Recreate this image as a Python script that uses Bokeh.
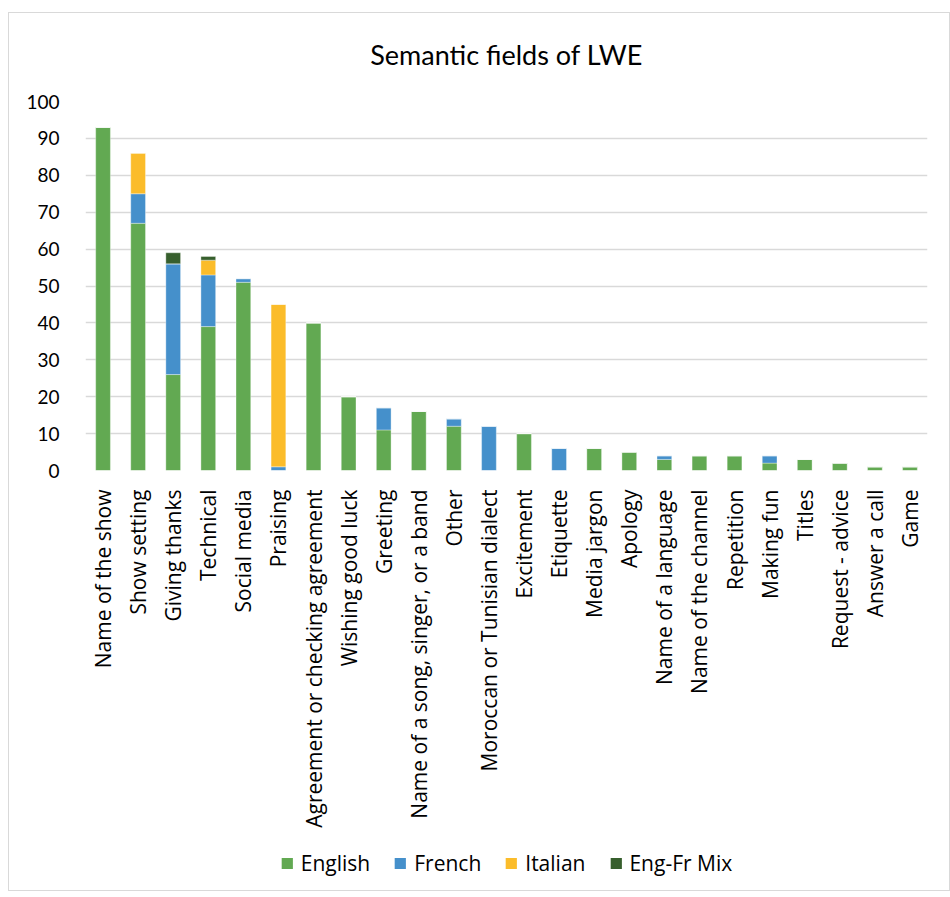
import math
from bokeh.plotting import figure
from bokeh.models import ColumnDataSource, FactorRange, Legend, LegendItem, Range1d
from bokeh.layouts import column
from bokeh.embed import file_html
from bokeh.resources import INLINE

categories = [
    "Name of the show", "Show setting", "Giving thanks", "Technical", "Social media",
    "Praising", "Agreement or checking agreement", "Wishing good luck", "Greeting",
    "Name of a song, singer, or a band", "Other", "Moroccan or Tunisian dialect",
    "Excitement", "Etiquette", "Media jargon", "Apology", "Name of a language",
    "Name of the channel", "Repetition", "Making fun", "Titles", "Request - advice",
    "Answer a call", "Game",
]
english = [93, 67, 26, 39, 51, 0, 40, 20, 11, 16, 12, 0, 10, 0, 6, 5, 3, 4, 4, 2, 3, 2, 1, 1]
french = [0, 8, 30, 14, 1, 1, 0, 0, 6, 0, 2, 12, 0, 6, 0, 0, 1, 0, 0, 2, 0, 0, 0, 0]
italian = [0, 11, 0, 4, 0, 44, 0, 0, 0, 0, 0, 0, 0, 0, 0, 0, 0, 0, 0, 0, 0, 0, 0, 0]
engfr_mix = [0, 0, 3, 1, 0, 0, 0, 0, 0, 0, 0, 0, 0, 0, 0, 0, 0, 0, 0, 0, 0, 0, 0, 0]
series_names = ["English", "French", "Italian", "Eng-Fr Mix"]
colors = ["#62a952", "#4590cb", "#fbbc2a", "#375f2d"]
y_ticks = list(range(0, 101, 10))

source = ColumnDataSource(dict(cat=categories, English=english, French=french,
                               Italian=italian, Mix=engfr_mix))

p = figure(x_range=FactorRange(*categories, range_padding=0), y_range=(0, 100),
           width=940, height=833, output_backend="svg", toolbar_location=None,
           min_border_left=76, min_border_right=22, min_border_top=98,
           min_border_bottom=366, styles={"margin-top": "-10px"})
p.border_fill_alpha = 0
p.title.text = "Semantic fields of LWE"
p.title.align = "center"
p.title.offset = -22
p.title.text_font = "Lato"
p.title.text_font_size = "27px"
p.title.text_font_style = "normal"
p.title.text_color = "#000000"
p.title.standoff = 62

renderers = p.vbar_stack(["English", "French", "Italian", "Mix"], x="cat", width=0.42,
                         color=colors, line_color="white", line_alpha=0.35,
                         source=source)

p.outline_line_color = None
p.xgrid.grid_line_color = None
p.ygrid.grid_line_color = "#d9d9d9"
p.ygrid.grid_line_width = 1.5
p.yaxis.ticker = y_ticks
p.yaxis.axis_line_color = None
p.yaxis.major_tick_line_color = None
p.yaxis.minor_tick_line_color = None
p.yaxis.major_label_text_font = "Lato"
p.yaxis.major_label_text_font_size = "19px"
p.yaxis.major_label_text_color = "#000000"
p.yaxis.major_label_standoff = 20

p.xaxis.axis_line_color = None
p.xaxis.major_tick_line_color = None
p.xaxis.major_label_orientation = math.pi / 2
p.xaxis.major_label_text_font = "Open Sans"
p.xaxis.major_label_text_font_size = "21px"
p.xaxis.major_label_text_color = "#000000"
p.xaxis.major_label_standoff = 13

# legend panel below the chart (legend glyphs only; its bars lie outside the view)
p2 = figure(width=940, height=54, output_backend="svg", toolbar_location=None,
            x_range=Range1d(10, 11), y_range=Range1d(10, 11),
            x_axis_location=None, y_axis_location=None,
            min_border_left=0, min_border_right=22, min_border_top=0, min_border_bottom=0)
p2.outline_line_color = None
p2.border_fill_alpha = 0
p2.background_fill_alpha = 0
p2.grid.grid_line_color = None
legend_renderers = [p2.vbar(x=[0], top=[0], bottom=[0], width=0.5, fill_color=c,
                            line_alpha=0) for c in colors]
legend = Legend(items=[LegendItem(label=n, renderers=[r]) for n, r in zip(series_names, legend_renderers)],
                orientation="horizontal", location="center",
                label_text_font="Open Sans", label_text_font_size="21px",
                label_text_color="#000000", glyph_width=14, glyph_height=14,
                spacing=23, label_standoff=7, border_line_color=None,
                background_fill_alpha=0)
p2.add_layout(legend, "center")

layout = column(p, p2, spacing=0, styles={"margin-left": "8px", "margin-top": "12px",
                                          "border": "1px solid #d9d9d9"})

open("out.html", "w").write(file_html(layout, INLINE))
